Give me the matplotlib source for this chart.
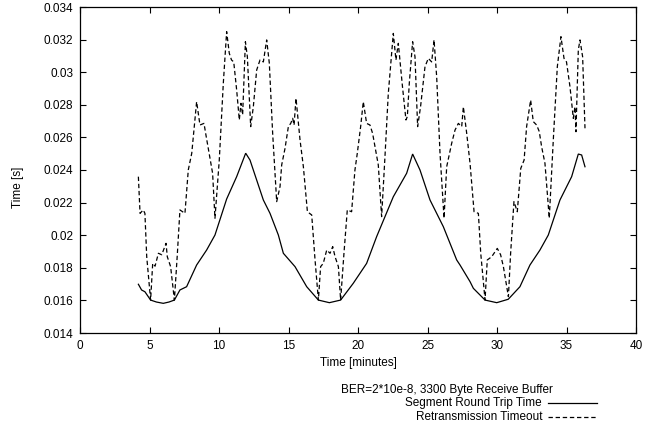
import matplotlib
matplotlib.use("Agg")
import matplotlib.pyplot as plt
from matplotlib.lines import Line2D

plt.rcParams['font.family'] = ['Liberation Sans', 'DejaVu Sans']

# Segment Round Trip Time (solid)
rtt_t = [4.20, 4.43, 4.67, 5.08, 5.50, 5.99, 6.40, 6.79, 7.19, 7.67, 8.39, 9.11,
         9.71, 10.55, 11.27, 11.92, 12.23, 13.19, 13.67, 14.27, 14.63, 15.47, 16.31,
         17.15, 17.94, 18.75, 19.66, 20.62, 21.34, 22.54, 23.50, 23.93, 24.46, 25.18,
         26.14, 27.10, 27.34, 28.06, 28.30, 29.14, 29.98, 30.81, 31.65, 32.37, 33.09,
         33.69, 34.53, 35.37, 35.85, 36.09, 36.33]
rtt_v = [0.01699, 0.01664, 0.01653, 0.01602, 0.01590, 0.01582, 0.01590, 0.01602,
         0.01664, 0.01684, 0.01817, 0.01909, 0.02001, 0.02222, 0.02359, 0.02503,
         0.02461, 0.02216, 0.02134, 0.02001, 0.01889, 0.01807, 0.01684, 0.01602,
         0.01586, 0.01602, 0.01705, 0.01827, 0.01991, 0.02236, 0.02380, 0.02498,
         0.02400, 0.02216, 0.02052, 0.01848, 0.01817, 0.01715, 0.01674, 0.01602,
         0.01586, 0.01607, 0.01684, 0.01817, 0.01909, 0.02001, 0.02216, 0.02359,
         0.02498, 0.02492, 0.02420]

# Retransmission Timeout (dashed)
rto_t = [4.20, 4.32, 4.55, 4.67, 4.80, 5.08, 5.23, 5.40, 5.64, 5.88, 6.19, 6.28, 6.52,
         6.79, 7.00, 7.19, 7.55, 7.79, 8.04, 8.39, 8.63, 8.92, 9.06, 9.23, 9.47, 9.54,
         9.71, 10.02, 10.31, 10.55, 10.74, 10.90, 11.06, 11.27, 11.46, 11.58, 11.70,
         11.90, 12.04, 12.28, 12.47, 12.71, 12.95, 13.19, 13.43, 13.62, 13.86, 14.15,
         14.39, 14.51, 14.75, 14.99, 15.16, 15.30, 15.40, 15.54, 15.83, 16.07, 16.36,
         16.67, 16.91, 17.15, 17.31, 17.50, 17.75, 17.99, 18.18, 18.35, 18.59, 18.75,
         18.99, 19.23, 19.54, 19.78, 19.95, 20.19, 20.38, 20.62, 20.86, 21.05, 21.22,
         21.46, 21.70, 21.94, 22.18, 22.54, 22.73, 22.90, 23.20, 23.45, 23.55, 23.69,
         23.93, 24.10, 24.29, 24.50, 24.82, 25.06, 25.30, 25.47, 25.66, 25.90, 26.19,
         26.38, 26.74, 26.98, 27.22, 27.46, 27.58, 27.82, 28.06, 28.35, 28.66, 28.83,
         29.14, 29.30, 29.62, 29.86, 30.02, 30.26, 30.46, 30.82, 30.98, 31.22, 31.46,
         31.71, 31.95, 32.13, 32.42, 32.61, 32.85, 33.04, 33.21, 33.45, 33.76, 34.05,
         34.34, 34.60, 34.82, 35.00, 35.25, 35.49, 35.61, 35.68, 35.85, 35.97, 36.16,
         36.33]
rto_v = [0.02359, 0.02134, 0.02155, 0.02134, 0.01868, 0.01602, 0.01827, 0.01810,
         0.01889, 0.01880, 0.01950, 0.01868, 0.01807, 0.01602, 0.01880, 0.02155,
         0.02134, 0.02400, 0.02503, 0.02819, 0.02676, 0.02686, 0.02615, 0.02533,
         0.02420, 0.02380, 0.02104, 0.02461, 0.02932, 0.03249, 0.03116, 0.03075,
         0.03063, 0.02891, 0.02707, 0.02809, 0.02738, 0.03187, 0.03095, 0.02666,
         0.02788, 0.03013, 0.03075, 0.03063, 0.03198, 0.03055, 0.02625, 0.02206,
         0.02298, 0.02431, 0.02533, 0.02666, 0.02686, 0.02717, 0.02676, 0.02840,
         0.02584, 0.02420, 0.02144, 0.02124, 0.01848, 0.01602, 0.01807, 0.01827,
         0.01909, 0.01889, 0.01930, 0.01868, 0.01807, 0.01602, 0.01889, 0.02155,
         0.02144, 0.02400, 0.02503, 0.02666, 0.02819, 0.02686, 0.02676, 0.02625,
         0.02543, 0.02431, 0.02114, 0.02482, 0.02870, 0.03238, 0.03075, 0.03177,
         0.02911, 0.02707, 0.02728, 0.02932, 0.03187, 0.03095, 0.02666, 0.02788,
         0.03034, 0.03085, 0.03063, 0.03198, 0.02972, 0.02503, 0.02104, 0.02420,
         0.02564, 0.02645, 0.02686, 0.02666, 0.02788, 0.02625, 0.02441, 0.02144,
         0.02134, 0.01889, 0.01602, 0.01848, 0.01868, 0.01899, 0.01919, 0.01880,
         0.01807, 0.01623, 0.01889, 0.02206, 0.02144, 0.02410, 0.02461, 0.02666,
         0.02829, 0.02697, 0.02676, 0.02636, 0.02543, 0.02441, 0.02104, 0.02584,
         0.03034, 0.03218, 0.03085, 0.03063, 0.02911, 0.02717, 0.02788, 0.02635,
         0.03136, 0.03198, 0.03095, 0.02656]

x_ticks = [0, 5, 10, 15, 20, 25, 30, 35, 40]
y_ticks = [0.014, 0.016, 0.018, 0.020, 0.022, 0.024, 0.026, 0.028, 0.030, 0.032, 0.034]
y_tick_labels = ['0.014', '0.016', '0.018', '0.02', '0.022', '0.024', '0.026',
                 '0.028', '0.03', '0.032', '0.034']

W, H = 658, 425
fig = plt.figure(figsize=(W / 100, H / 100), dpi=100)
ax = fig.add_axes([80 / W, 1 - 333 / H, (636 - 80) / W, (333 - 7) / H])

ax.plot(rtt_t, rtt_v, color='black', lw=0.9, solid_joinstyle='miter')
ax.plot(rto_t, rto_v, color='black', lw=0.9, dashes=(3.5, 2.2))

ax.set_xlim(0, 40)
ax.set_ylim(0.014, 0.034)
ax.set_xticks(x_ticks)
ax.set_xticklabels([str(v) for v in x_ticks])
ax.set_yticks(y_ticks)
ax.set_yticklabels(y_tick_labels)
ax.tick_params(direction='in', length=4, width=0.8, top=True, right=True,
               labelsize=8.5, colors='black')
ax.tick_params(axis='x', pad=5)
ax.tick_params(axis='y', pad=5)
for s in ax.spines.values():
    s.set_linewidth(0.9)

fs = 8.5
fig.text(358 / W, 1 - 363 / H, 'Time [minutes]', ha='center', va='center', fontsize=fs)
fig.text(18 / W, 1 - 187 / H, 'Time [s]', ha='center', va='center', rotation=90, fontsize=fs)

# legend block (gnuplot style, right-aligned text with sample lines)
fig.text(553 / W, 1 - 390 / H, 'BER=2*10e-8, 3300 Byte Receive Buffer',
         ha='right', va='center', fontsize=fs)
fig.text(542 / W, 1 - 403 / H, 'Segment Round Trip Time', ha='right', va='center', fontsize=fs)
fig.text(542 / W, 1 - 417 / H, 'Retransmission Timeout', ha='right', va='center', fontsize=fs)
fig.add_artist(Line2D([548 / W, 597 / W], [1 - 403 / H, 1 - 403 / H],
                      transform=fig.transFigure, color='black', lw=0.9))
fig.add_artist(Line2D([548 / W, 597 / W], [1 - 417 / H, 1 - 417 / H],
                      transform=fig.transFigure, color='black', lw=0.9, dashes=(3.5, 2.2)))

fig.savefig('out.png', dpi=100)
